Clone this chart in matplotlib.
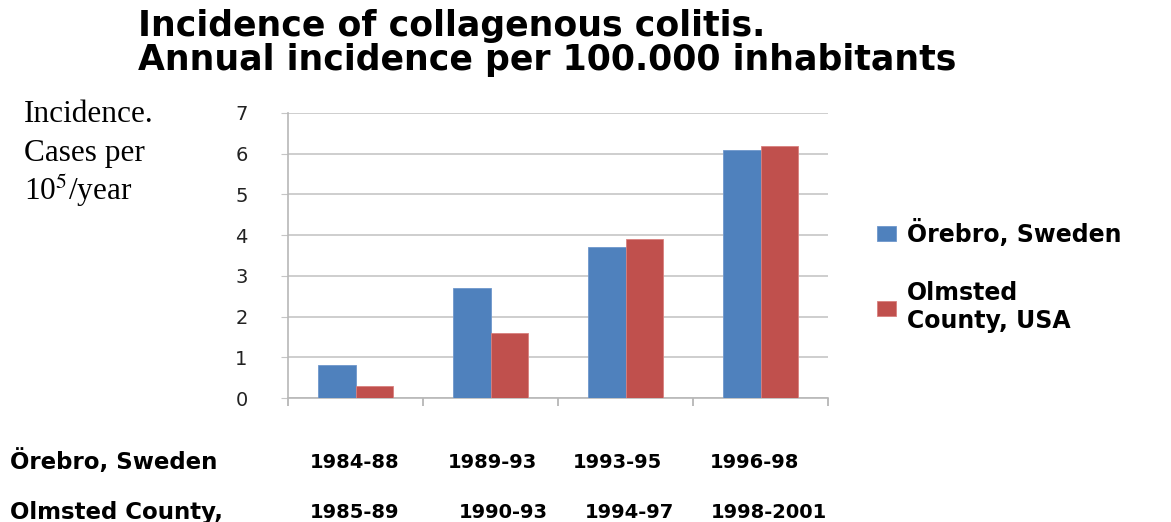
import numpy as np
import matplotlib.pyplot as plt
from matplotlib.ticker import FixedLocator, NullFormatter

# ===== DATA =====
periods = ["P1", "P2", "P3", "P4"]
orebro = [0.8, 2.7, 3.7, 6.1]
olmsted = [0.3, 1.6, 3.9, 6.2]
orebro_years = ["1984-88", "1989-93", "1993-95", "1996-98"]
olmsted_years = ["1985-89", "1990-93", "1994-97", "1998-2001"]
series_names = ["Örebro, Sweden", "Olmsted\nCounty, USA"]
row_names = ["Örebro, Sweden", "Olmsted County,"]
title_lines = ["Incidence of collagenous colitis.",
               "Annual incidence per 100.000 inhabitants"]
ylabel_lines = ["Incidence.", "Cases per", r"10$^{5}$/year"]

BLUE = "#4f81bd"
RED = "#c0504d"
GRID = "#c6c6c6"

W, H = 1171, 522
fig = plt.figure(figsize=(W / 100, H / 100), dpi=100)

def fx(px):
    return px / W

def fy(py):
    return 1 - py / H

# axes placed in pixel terms
ax = fig.add_axes([fx(288), fy(398), fx(828) - fx(288), fy(113) - fy(398)])

x = np.arange(len(periods))
bw = 0.275
b1 = ax.bar(x - bw / 2, orebro, bw, color=BLUE, edgecolor="#6f97cc", linewidth=0.6, zorder=3)
b2 = ax.bar(x + bw / 2, olmsted, bw, color=RED, edgecolor="#d9807e", linewidth=0.6, zorder=3)

ax.set_xlim(-0.5, len(periods) - 0.5)
ax.set_ylim(0, 7)
ax.set_yticks(range(0, 8))
ax.tick_params(axis="y", length=5, color=GRID, labelsize=14, pad=24,
               labelcolor="#222222")
ax.grid(axis="y", color=GRID, linewidth=1.2, zorder=0)
ax.set_axisbelow(True)

ax.xaxis.set_major_locator(FixedLocator([]))
ax.xaxis.set_minor_locator(FixedLocator(np.arange(-0.5, len(periods), 1.0)))
ax.xaxis.set_minor_formatter(NullFormatter())
ax.tick_params(axis="x", which="minor", length=6, color="#b0b0b0", width=1.2)

for s in ("top", "right"):
    ax.spines[s].set_visible(False)
for s in ("left", "bottom"):
    ax.spines[s].set_color("#b8b8b8")
    ax.spines[s].set_linewidth(1.2)

# ===== TITLE =====
fig.text(fx(138), fy(36), title_lines[0], fontsize=25, fontweight="bold",
         family="DejaVu Sans", va="baseline", ha="left")
fig.text(fx(138), fy(70), title_lines[1], fontsize=25, fontweight="bold",
         family="DejaVu Sans", va="baseline", ha="left")

# ===== Y LABEL (three lines, serif) =====
for txt, base in zip(ylabel_lines, [122, 161, 200]):
    fig.text(fx(24), fy(base), txt, fontsize=22.5, family="Liberation Serif",
             va="baseline", math_fontfamily="stix")

# ===== LEGEND =====
fig.legend([b1, b2], series_names, loc="upper left",
           bbox_to_anchor=(fx(856), fy(198)), frameon=False,
           prop={"family": "DejaVu Sans", "weight": "bold", "size": 17},
           handlelength=0.8, handleheight=0.6, handletextpad=0.45,
           labelspacing=1.45)

# ===== BOTTOM TABLE =====
fig.text(fx(10), fy(462), row_names[0], fontsize=16.5, fontweight="bold",
         family="DejaVu Sans", va="center")
fig.text(fx(10), fy(512), row_names[1], fontsize=16.5, fontweight="bold",
         family="DejaVu Sans", va="center")
row1_x = [355, 492, 617, 755]
row2_x = [355, 503, 629, 769]
for px, lab in zip(row1_x, orebro_years):
    fig.text(fx(px), fy(462), lab, fontsize=14, fontweight="bold",
             family="DejaVu Sans", va="center", ha="center")
for px, lab in zip(row2_x, olmsted_years):
    fig.text(fx(px), fy(512), lab, fontsize=14, fontweight="bold",
             family="DejaVu Sans", va="center", ha="center")

fig.savefig("out.png", dpi=100)
